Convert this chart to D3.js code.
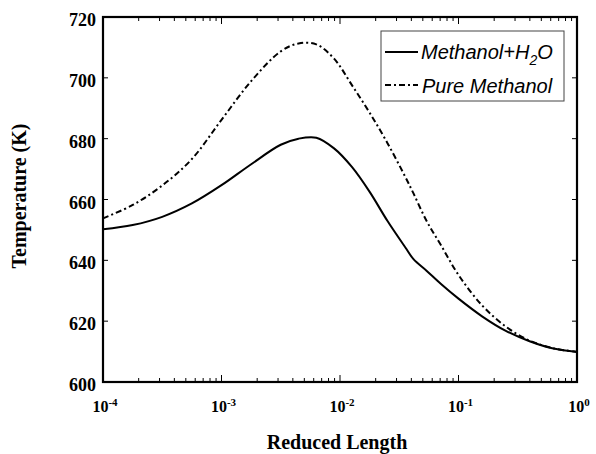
<!DOCTYPE html>
<html>
<head>
<meta charset="utf-8">
<script src="https://cdn.jsdelivr.net/npm/d3@7/dist/d3.min.js"></script>
<style>
  html, body { margin: 0; padding: 0; background: #fff; }
  svg { display: block; }
  .tick-label { font-family: "Liberation Serif", "Times New Roman", serif; font-weight: bold; fill: #000; }
  .legend-text { font-family: "Liberation Sans", Arial, sans-serif; font-style: italic; fill: #000; }
</style>
</head>
<body>
<svg id="chart" width="596" height="454"></svg>
<script>
// Reduced length along the reactor (log scale)
const reducedLength = [0.0001, 0.000178, 0.000316, 0.000562, 0.001, 0.00178, 0.00316, 0.00447,
  0.00631, 0.00891, 0.0126, 0.0178, 0.0251, 0.0355, 0.0417, 0.0537, 0.0708, 0.1, 0.158,
  0.251, 0.398, 0.631, 1];

// Temperature profiles (K)
const tempMethanolWater = [650.2, 651.6, 654.3, 658.7, 664.7, 671.6, 678.0, 680.0,
  680.3, 676.8, 670.7, 662.5, 653.0, 644.3, 640.4, 636.6, 632.3, 627.4, 621.6,
  616.8, 613.4, 611.0, 609.9];
const tempPureMethanol = [653.8, 658.2, 664.6, 673.3, 686.2, 698.9, 708.7, 711.3,
  711.0, 706.3, 697.6, 688.5, 678.6, 667.5, 662.0, 653.0, 645.1, 635.2, 625.2,
  618.2, 613.6, 611.1, 609.9];

const seriesNames = ["Methanol+H", "Pure Methanol"];
const xTickValues = [1e-4, 1e-3, 1e-2, 1e-1, 1];
const xTickExponents = ["-4", "-3", "-2", "-1", "0"];
const yTickValues = [600, 620, 640, 660, 680, 700, 720];

const svg = d3.select("#chart");
const plotLeft = 103, plotRight = 577, plotTop = 17, plotBottom = 382;

const x = d3.scaleLog().domain([1e-4, 1]).range([plotLeft, plotRight]);
const y = d3.scaleLinear().domain([600, 720]).range([plotBottom, plotTop]);

// Minor ticks (2..9 within each decade)
const minorTicks = [];
for (let e = -4; e < 0; e++) {
  for (let m = 2; m <= 9; m++) minorTicks.push(m * Math.pow(10, e));
}

const tickG = svg.append("g").attr("stroke", "#000").attr("stroke-width", 1);
// bottom & top inward ticks
[plotBottom, plotTop].forEach((yy, i) => {
  const dir = i === 0 ? -1 : 1;
  tickG.selectAll(null).data(minorTicks).join("line")
    .attr("x1", d => x(d)).attr("x2", d => x(d))
    .attr("y1", yy).attr("y2", yy + dir * 4);
  tickG.selectAll(null).data(xTickValues).join("line")
    .attr("x1", d => x(d)).attr("x2", d => x(d))
    .attr("y1", yy).attr("y2", yy + dir * 7);
});
// left & right inward ticks
[plotLeft, plotRight].forEach((xx, i) => {
  const dir = i === 0 ? 1 : -1;
  tickG.selectAll(null).data(yTickValues).join("line")
    .attr("x1", xx).attr("x2", xx + dir * 5)
    .attr("y1", d => y(d)).attr("y2", d => y(d));
});

// Curves
const line = (vals) => d3.line()
  .x((d, i) => x(reducedLength[i]))
  .y(d => y(d))
  .curve(d3.curveCatmullRom.alpha(0.5))(vals);

svg.append("path")
  .attr("d", line(tempPureMethanol))
  .attr("fill", "none").attr("stroke", "#000").attr("stroke-width", 2)
  .attr("stroke-dasharray", "6,3,2,3");

svg.append("path")
  .attr("d", line(tempMethanolWater))
  .attr("fill", "none").attr("stroke", "#000").attr("stroke-width", 2);

// Frame
svg.append("rect")
  .attr("x", plotLeft).attr("y", plotTop)
  .attr("width", plotRight - plotLeft).attr("height", plotBottom - plotTop)
  .attr("fill", "none").attr("stroke", "#000").attr("stroke-width", 2.2);

// Y tick labels
svg.selectAll(".ylab").data(yTickValues).join("text")
  .attr("class", "tick-label")
  .attr("x", 96).attr("y", d => y(d) + 9)
  .attr("text-anchor", "end")
  .attr("font-size", 18)
  .text(d => d);

// X tick labels (10 with superscript exponent)
const xl = svg.selectAll(".xlab").data(xTickValues).join("text")
  .attr("class", "tick-label")
  .attr("x", d => x(d) + 2).attr("y", 412)
  .attr("text-anchor", "middle")
  .attr("font-size", 16);
xl.append("tspan").text("10");
xl.append("tspan").attr("font-size", 11).attr("dy", -6).text((d, i) => xTickExponents[i]);

// Axis titles
svg.append("text")
  .attr("class", "tick-label")
  .attr("x", 337).attr("y", 449)
  .attr("text-anchor", "middle").attr("font-size", 20)
  .text("Reduced Length");

svg.append("text")
  .attr("class", "tick-label")
  .attr("transform", "translate(26,196) rotate(-90)")
  .attr("text-anchor", "middle").attr("font-size", 20)
  .text("Temperature (K)");

// Legend
const lg = svg.append("g");
lg.append("rect")
  .attr("x", 381).attr("y", 31).attr("width", 183).attr("height", 70)
  .attr("fill", "#fff").attr("stroke", "#444").attr("stroke-width", 1);
lg.append("line")
  .attr("x1", 385).attr("x2", 418).attr("y1", 52).attr("y2", 52)
  .attr("stroke", "#000").attr("stroke-width", 2);
lg.append("line")
  .attr("x1", 385).attr("x2", 418).attr("y1", 85).attr("y2", 85)
  .attr("stroke", "#000").attr("stroke-width", 2)
  .attr("stroke-dasharray", "6,3,2,3");
const t1 = lg.append("text").attr("class", "legend-text")
  .attr("x", 421).attr("y", 59).attr("font-size", 20);
t1.append("tspan").text(seriesNames[0]);
t1.append("tspan").attr("font-size", 14).attr("dy", 6).text("2");
t1.append("tspan").attr("dy", -6).text("O");
lg.append("text").attr("class", "legend-text")
  .attr("x", 422).attr("y", 93).attr("font-size", 20)
  .text(seriesNames[1]);
</script>
</body>
</html>
